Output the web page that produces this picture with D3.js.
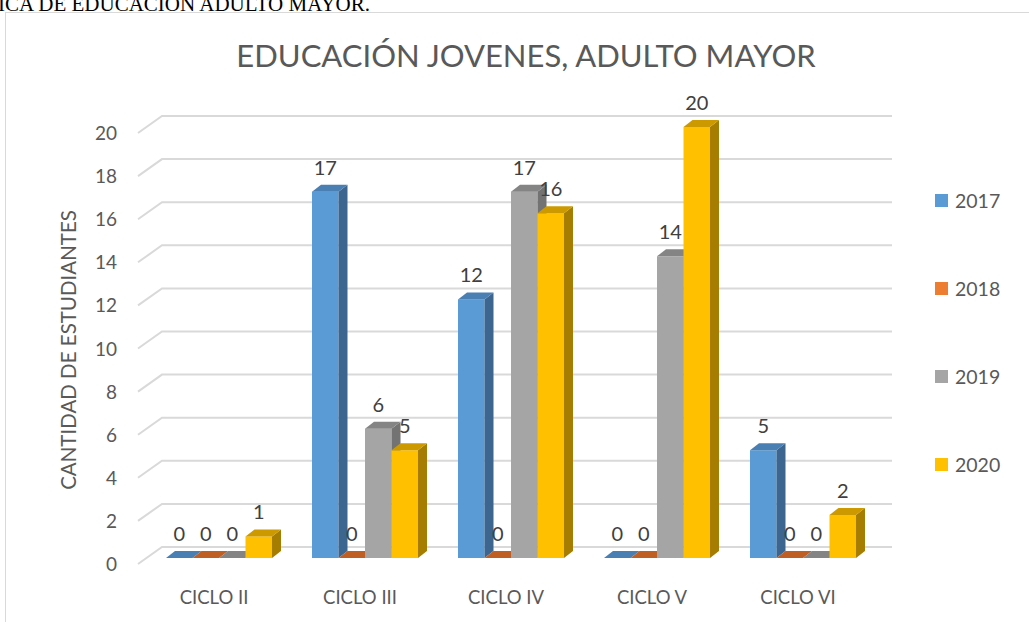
<!DOCTYPE html>
<html>
<head>
<meta charset="utf-8">
<script src="https://cdn.jsdelivr.net/npm/d3@7"></script>
<style>
  body { margin: 0; background: #fff; }
  text { font-family: Lato, "Open Sans", sans-serif; }
</style>
</head>
<body>
<svg width="1029" height="622"></svg>
<script>
const categories = ["CICLO II", "CICLO III", "CICLO IV", "CICLO V", "CICLO VI"];
const years = ["2017", "2018", "2019", "2020"];
const v2017 = [0, 17, 12, 0, 5];
const v2018 = [0, 0, 0, 0, 0];
const v2019 = [0, 6, 17, 14, 0];
const v2020 = [1, 5, 16, 20, 2];
const yTicks = d3.range(0, 21, 2);

const series = [v2017, v2018, v2019, v2020];
const faces = [
  { front: "#5b9bd5", side: "#3c6690", top: "#4a7fb3" },
  { front: "#ed7d31", side: "#a5571f", top: "#bf5f24" },
  { front: "#a5a5a5", side: "#737373", top: "#848484" },
  { front: "#ffc000", side: "#a67d00", top: "#cc9a00" }
];

const svg = d3.select("svg");

// depth vectors: front plane -> back wall, and bar thickness
const wallDx = 24, wallDy = -17;
const barOffX = 8, barOffY = -6;
const barDx = 9, barDy = -7;

// front plane scales
const x = d3.scaleBand().domain(categories).range([138, 868]);
const y = d3.scaleLinear().domain([0, 20]).range([564, 133]);

// page text above the chart (cut off)
svg.append("text")
  .attr("x", 370).attr("y", 11)
  .attr("text-anchor", "end")
  .style("font-family", "'Liberation Serif', serif")
  .style("font-size", "21px")
  .attr("fill", "#000")
  .text("GRÁFICA DE EDUCACIÓN ADULTO MAYOR.");

// chart border
svg.append("rect")
  .attr("x", 5.5).attr("y", 12.5)
  .attr("width", 1040).attr("height", 640)
  .attr("fill", "#fff")
  .attr("stroke", "#d9d9d9");

svg.append("text")
  .attr("x", 526).attr("y", 67)
  .attr("text-anchor", "middle")
  .attr("fill", "#595959")
  .style("font-size", "31px")
  .text("EDUCACIÓN JOVENES, ADULTO MAYOR");

// gridlines on back wall with diagonal to the front
const grid = svg.append("g");
yTicks.forEach(t => {
  const yf = y(t);
  grid.append("path")
    .attr("d", `M${x.range()[0]},${yf} L${x.range()[0] + wallDx},${yf + wallDy} L${x.range()[1] + wallDx},${yf + wallDy}`)
    .attr("fill", "none")
    .attr("stroke", "#d9d9d9")
    .attr("stroke-width", 2);
});

// y tick labels
svg.append("g").selectAll("text")
  .data(yTicks).enter().append("text")
  .attr("x", 117).attr("y", d => y(d) + 7)
  .attr("text-anchor", "end")
  .attr("fill", "#595959")
  .style("font-size", "19px")
  .text(d => d);

svg.append("text")
  .attr("transform", "translate(76,350) rotate(-90)")
  .attr("text-anchor", "middle")
  .attr("fill", "#595959")
  .style("font-size", "20.5px")
  .text("CANTIDAD DE ESTUDIANTES");

// bars
const barW = 26.5;
const bars = svg.append("g");
const labels = [];
categories.forEach((c, ci) => {
  const gx = x(c) + (x.bandwidth() - barW * series.length) / 2 + barOffX;
  series.forEach((s, si) => {
    const v = s[ci];
    const x0 = gx + si * barW, x1 = x0 + barW;
    const yb = y(0) + barOffY, yt = y(v) + barOffY;
    const f = faces[si];
    if (v > 0) {
      bars.append("rect")
        .attr("x", x0).attr("y", yt)
        .attr("width", barW).attr("height", yb - yt)
        .attr("fill", f.front);
      bars.append("path")
        .attr("d", `M${x1},${yt} L${x1 + barDx},${yt + barDy} L${x1 + barDx},${yb + barDy} L${x1},${yb} Z`)
        .attr("fill", f.side);
    }
    bars.append("path")
      .attr("d", `M${x0},${yt} L${x0 + barDx},${yt + barDy} L${x1 + barDx},${yt + barDy} L${x1},${yt} Z`)
      .attr("fill", f.top);
    labels.push({ x: (x0 + x1) / 2, y: yt - 17, v: v });
  });
});

svg.append("g").selectAll("text")
  .data(labels).enter().append("text")
  .attr("x", d => d.x).attr("y", d => d.y)
  .attr("text-anchor", "middle")
  .attr("fill", "#404040")
  .style("font-size", "20px")
  .text(d => d.v);

// category labels
svg.append("g").selectAll("text")
  .data(categories).enter().append("text")
  .attr("x", d => x(d) + x.bandwidth() / 2 + 3)
  .attr("y", 604)
  .attr("text-anchor", "middle")
  .attr("fill", "#595959")
  .style("font-size", "18.5px")
  .text(d => d);

// legend
const legend = svg.append("g").selectAll("g")
  .data(years).enter().append("g")
  .attr("transform", (d, i) => `translate(935,${201 + i * 88})`);
legend.append("rect")
  .attr("x", 0).attr("y", -7)
  .attr("width", 13).attr("height", 13)
  .attr("fill", (d, i) => faces[i].front);
legend.append("text")
  .attr("x", 20).attr("y", 7)
  .attr("fill", "#595959")
  .style("font-size", "19.5px")
  .text(d => d);
</script>
</body>
</html>
